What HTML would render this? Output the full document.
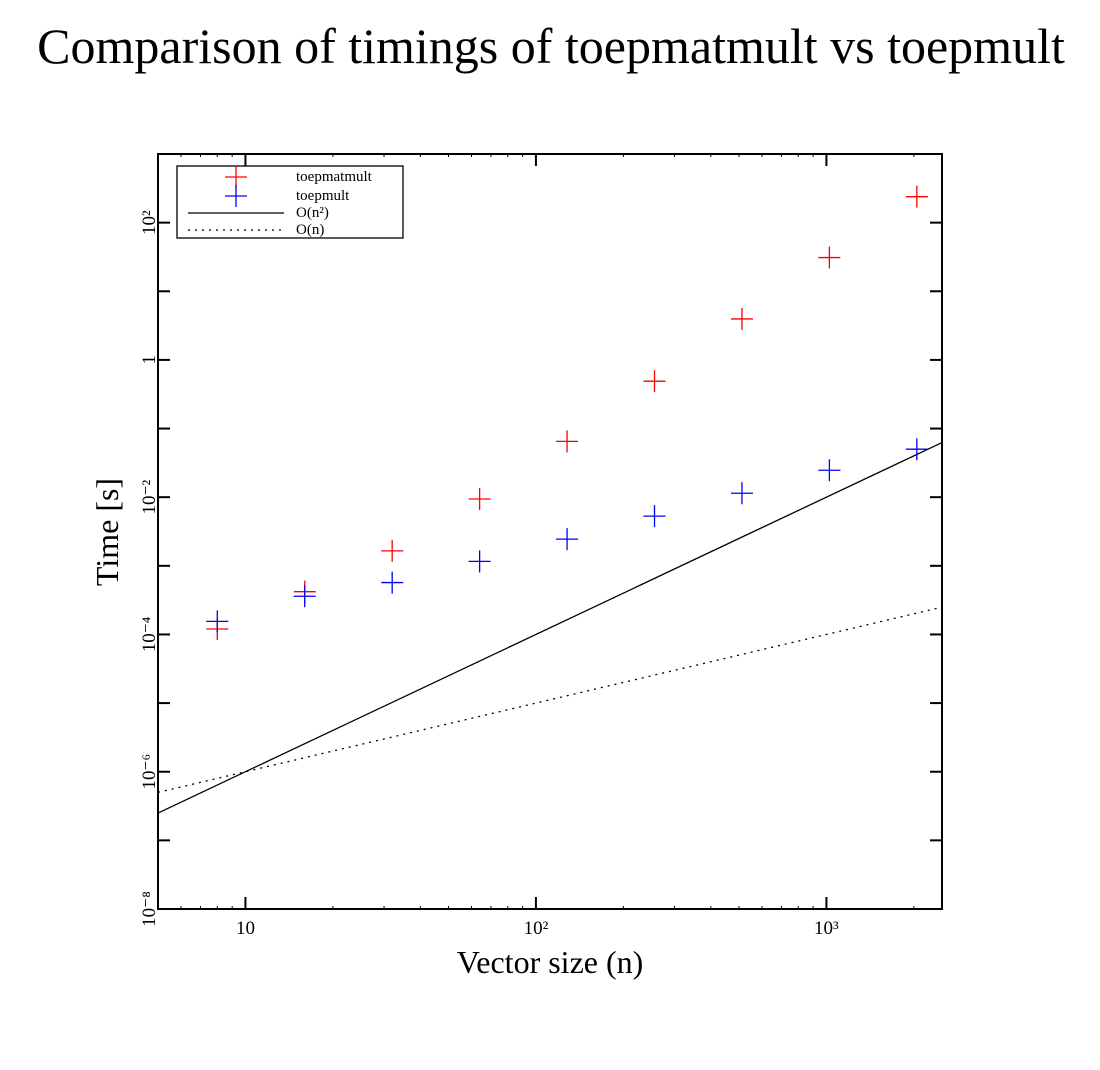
<!DOCTYPE html>
<html><head><meta charset="utf-8"><style>
body{margin:0;background:#fff;}
svg{display:block;font-family:"Liberation Serif",serif;}
</style></head><body>
<svg id="c" width="1100" height="1070">
<text x="551" y="63" font-size="50" text-anchor="middle">Comparison of timings of toepmatmult vs toepmult</text>
<g id="plot"></g>
</svg>
<script>
const sizes=[8,16,32,64,128,256,512,1024,2048];
const matmultTimes=[1.2e-4,4.2e-4,1.65e-3,9.4e-3,0.065,0.49,3.95,31,239];
const multTimes=[1.55e-4,3.6e-4,5.7e-4,1.16e-3,2.45e-3,5.3e-3,1.14e-2,0.0247,0.05];
const xTickVals=[10,100,1000];
const xTickLabels=["10","10²","10³"];
const yTickVals=[1e-8,1e-6,1e-4,1e-2,1,100];
const yTickLabels=["10⁻⁸","10⁻⁶","10⁻⁴","10⁻²","1","10²"];
const ns="http://www.w3.org/2000/svg";
const L=158,R=942,T=154,B=909;
const xMin=Math.log10(5),xMax=Math.log10(2500),yMin=-8,yMax=3;
const X=v=>L+(Math.log10(v)-xMin)/(xMax-xMin)*(R-L);
const Y=v=>B-(Math.log10(v)-yMin)/(yMax-yMin)*(B-T);
const g=document.getElementById('plot');
function mk(t,a,p){const e=document.createElementNS(ns,t);for(const k in a)e.setAttribute(k,a[k]);(p||g).appendChild(e);return e;}
const defs=mk('defs',{});const cp=mk('clipPath',{id:'clip'},defs);mk('rect',{x:L,y:T,width:R-L,height:B-T},cp);
const n2=mk('line',{x1:L,y1:Y(1e-8*25),x2:R,y2:Y(1e-8*2500*2500),stroke:'#000','stroke-width':1.3,'clip-path':'url(#clip)'});


const n1=mk('line',{x1:L,y1:Y(1e-7*5),x2:R,y2:Y(1e-7*2500),stroke:'#000','stroke-width':1.3,'stroke-dasharray':'2,5','clip-path':'url(#clip)'});


const fr=mk('rect',{x:L,y:T,width:R-L,height:B-T,fill:'none',stroke:'#000','stroke-width':2});


for(let d=-8;d<=3;d++){const y=Y(Math.pow(10,d));
mk('line',{x1:L,y1:y,x2:L+12,y2:y,stroke:'#000','stroke-width':2});
mk('line',{x1:R,y1:y,x2:R-12,y2:y,stroke:'#000','stroke-width':2});}
yTickVals.forEach((v,i)=>{const y=Y(v);const t=mk('text',{x:0,y:0,'font-size':19,'text-anchor':'middle',transform:`translate(155,${y}) rotate(-90)`});t.textContent=yTickLabels[i];

});
for(let d=0;d<=3;d++){for(let m=1;m<10;m++){const v=m*Math.pow(10,d);if(v<5||v>2500)continue;const x=X(v);const len=m==1?12:3;
mk('line',{x1:x,y1:B,x2:x,y2:B-len,stroke:'#000','stroke-width':m==1?2:1});
mk('line',{x1:x,y1:T,x2:x,y2:T+len,stroke:'#000','stroke-width':m==1?2:1});}}
xTickVals.forEach((v,i)=>{const t=mk('text',{x:X(v),y:934,'font-size':19,'text-anchor':'middle'});t.textContent=xTickLabels[i];

});
const xt=mk('text',{x:550,y:973,'font-size':32,'text-anchor':'middle'});xt.textContent='Vector size (n)';


const yt=mk('text',{x:0,y:0,'font-size':32,'text-anchor':'middle',transform:'translate(118,532) rotate(-90)'});yt.textContent='Time [s]';


function plus(x,y,c,name){const e=mk('path',{d:`M${x-11},${y}H${x+11}M${x},${y-11}V${y+11}`,stroke:c,'stroke-width':1.3,fill:'none'});

}
sizes.forEach((n,i)=>{plus(X(n),Y(matmultTimes[i]),'#f00','toepmatmult-point');plus(X(n),Y(multTimes[i]),'#00f','toepmult-point');});
const lg=mk('g',{});


mk('rect',{x:177,y:166,width:226,height:72,fill:'#fff',stroke:'#000','stroke-width':1.3},lg);
plus(236,177,'#f00','legend-toepmatmult-marker');plus(236,196,'#00f','legend-toepmult-marker');
mk('line',{x1:188,y1:213,x2:284,y2:213,stroke:'#000','stroke-width':1.3},lg);
mk('line',{x1:188,y1:230,x2:284,y2:230,stroke:'#000','stroke-width':1.3,'stroke-dasharray':'2,5'},lg);
[['toepmatmult',181],['toepmult',200],['O(n²)',217],['O(n)',234]].forEach(([s,y])=>{const t=mk('text',{x:296,y:y,'font-size':15},lg);t.textContent=s;

});
</script>
</body></html>
